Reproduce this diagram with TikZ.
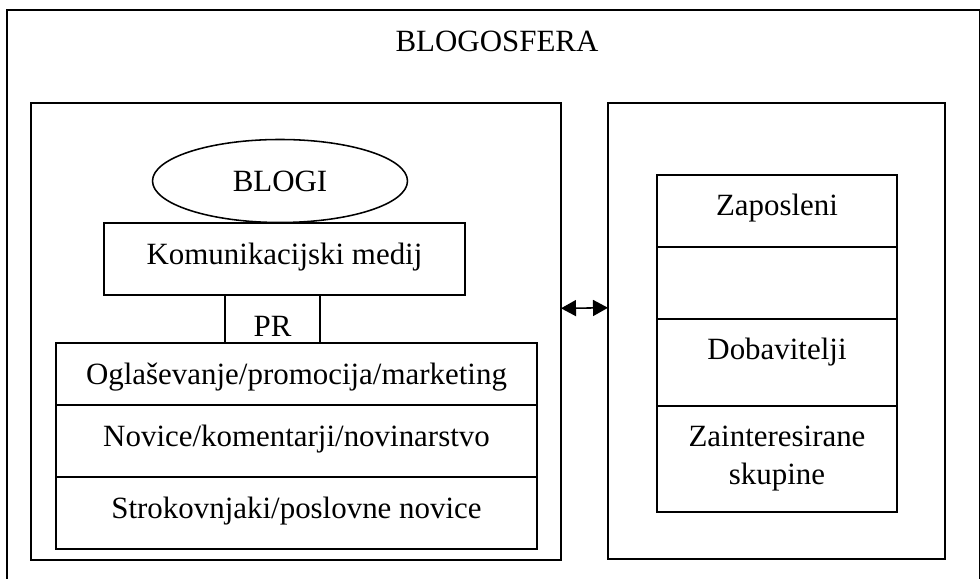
\documentclass[tikz,border=0pt]{standalone}
\usepackage{fontspec}
\setmainfont{Liberation Serif}
\usetikzlibrary{shapes.geometric, arrows.meta, positioning}
\tikzset{
    frame_box/.style={rectangle, draw, line width=1.1pt, inner sep=0pt, outer sep=0pt},
    cell_box/.style={rectangle, draw, line width=1.1pt, inner sep=0pt, outer sep=0pt, align=center, font=\fontsize{22}{27}\selectfont},
    top_text/.style={text height=1.025cm, text depth=#1},
    blog_oval/.style={ellipse, draw, line width=1.1pt, inner sep=0pt, font=\fontsize{22}{27}\selectfont, minimum width=6.375cm, minimum height=2.075cm},
    arrow/.style={<->, >={Triangle[length=0.375cm, width=0.4cm]}, line width=1.1pt}
}
\begin{document}
\begin{tikzpicture}
			\useasboundingbox (0,0) rectangle (24.5,-14.475);
			% outer frame, open at the bottom
			\draw [line width=1.1pt] (0.175,-14.5) |- (24.49,-0.25) -- (24.49,-14.5);
			\node (title) [anchor=base, font=\fontsize{22}{27}\selectfont] at (12.425,-1.3) {BLOGOSFERA};
			
			\node (blogbox) [frame_box, minimum width=13.25cm, minimum height=11.425cm] at (7.4,-8.2875) {};
			\node (groupbox) [frame_box, minimum width=8.425cm, minimum height=11.4cm] at (19.4125,-8.275) {};
			
			\node (blogi) [blog_oval] at (7.0,-4.525) {BLOGI};
			\node (medij) [cell_box, top_text=0.775cm, minimum width=9.025cm, below=0pt of blogi, xshift=0.1125cm] {Komunikacijski medij};
			\node (pr) [cell_box, top_text=0.175cm, minimum width=2.375cm, below=0pt of medij, xshift=-0.3cm] {PR};
			\node (oglas) [cell_box, top_text=0.525cm, minimum width=12.025cm, below=0pt of pr, xshift=0.6cm] {Oglaševanje/promocija/marketing};
			\node (novice) [cell_box, top_text=0.775cm, minimum width=12.025cm, below=0pt of oglas] {Novice/komentarji/novinarstvo};
			\node (strok) [cell_box, top_text=0.775cm, minimum width=12.025cm, below=0pt of novice] {Strokovnjaki/poslovne novice};
			
			\node (zapos) [cell_box, top_text=0.775cm, minimum width=6cm, anchor=north west] at (16.425,-4.375) {Zaposleni};
			\node (prazno) [cell_box, minimum width=6cm, minimum height=1.8cm, below=0pt of zapos] {};
			\node (dobav) [cell_box, top_text=1.15cm, minimum width=6cm, below=0pt of prazno] {Dobavitelji};
			\node (skupine) [cell_box, minimum width=6cm, minimum height=2.65cm, below=0pt of dobav] {Zainteresirane\\skupine};
			
			\draw [arrow] ([yshift=0.58cm]blogbox.east) -- ([yshift=0.58cm]groupbox.west);
		\end{tikzpicture}
\end{document}
